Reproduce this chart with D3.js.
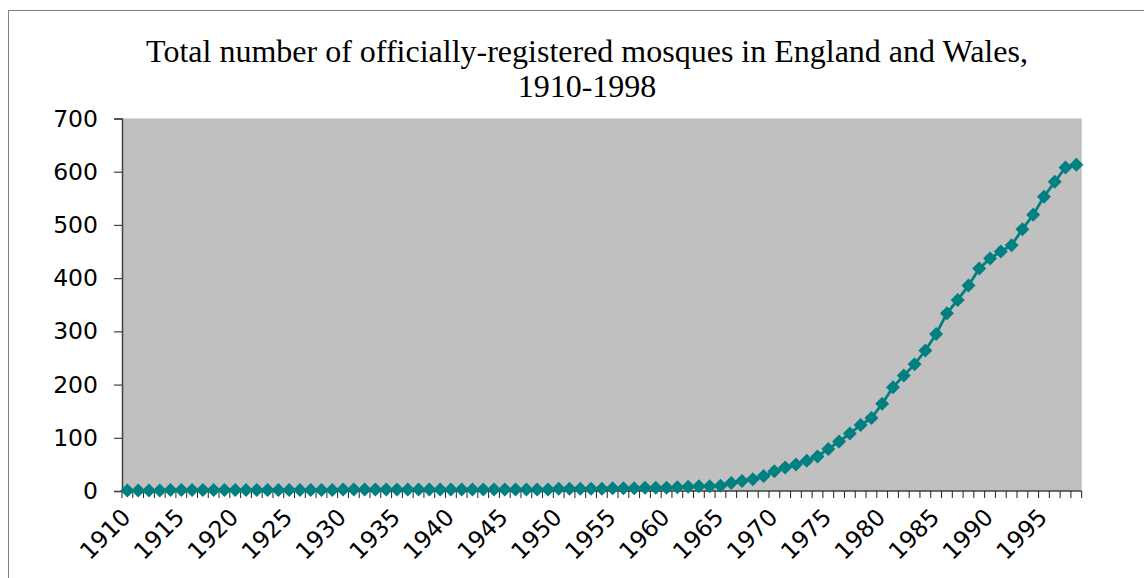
<!DOCTYPE html>
<html>
<head>
<meta charset="utf-8">
<script src="https://cdn.jsdelivr.net/npm/d3@7"></script>
<style>
  html, body { margin: 0; padding: 0; background: #fff; }
  svg { display: block; }
</style>
</head>
<body>
<svg id="chart" width="1144" height="578"></svg>
<script>
const titleLines = ["Total number of officially-registered mosques in England and Wales,", "1910-1998"];
const years = [1910,1911,1912,1913,1914,1915,1916,1917,1918,1919,
  1920,1921,1922,1923,1924,1925,1926,1927,1928,1929,
  1930,1931,1932,1933,1934,1935,1936,1937,1938,1939,
  1940,1941,1942,1943,1944,1945,1946,1947,1948,1949,
  1950,1951,1952,1953,1954,1955,1956,1957,1958,1959,
  1960,1961,1962,1963,1964,1965,1966,1967,1968,1969,
  1970,1971,1972,1973,1974,1975,1976,1977,1978,1979,
  1980,1981,1982,1983,1984,1985,1986,1987,1988,1989,
  1990,1991,1992,1993,1994,1995,1996,1997,1998];
const mosques = [1,1,1,1,2,2,2,2,2,2,
  2,2,2,2,2,2,2,2,2,2,
  3,3,3,3,3,3,3,3,3,3,
  3,3,3,3,3,3,3,3,3,3,
  4,4,4,4,4,5,5,5,6,6,
  6,7,8,9,9,10,15,19,22,28,
  37,44,50,57,65,79,93,108,124,137,
  164,195,217,238,264,295,334,359,386,418,
  437,450,462,492,519,553,581,608,613];
const yTicks = [0,100,200,300,400,500,600,700];
const xTickLabels = [1910,1915,1920,1925,1930,1935,1940,1945,1950,1955,1960,1965,1970,1975,1980,1985,1990,1995];

const svg = d3.select("#chart");
const plot = {left: 122, right: 1081.7, top: 118.5, bottom: 491};

// outer frame
svg.append("rect").attr("x", 8.5).attr("y", 10.5).attr("width", 1150).attr("height", 600)
  .attr("fill", "#fff").attr("stroke", "#808080").attr("stroke-width", 1);

const x = d3.scaleBand().domain(years).range([plot.left, plot.right]).padding(0);
const y = d3.scaleLinear().domain([0, 700]).range([plot.bottom, plot.top]);

// plot area
svg.append("rect").attr("x", plot.left).attr("y", plot.top)
  .attr("width", plot.right - plot.left).attr("height", plot.bottom - plot.top)
  .attr("fill", "#C0C0C0");

// title
svg.append("g").selectAll("text").data(titleLines).join("text")
  .attr("x", 587).attr("y", (d, i) => 62 + i * 35)
  .attr("text-anchor", "middle")
  .attr("font-family", "'Liberation Serif', 'Times New Roman', serif")
  .attr("font-size", 32).attr("fill", "#000")
  .text(d => d);

// y axis
const yAxis = d3.axisLeft(y).tickValues(yTicks).tickSize(8).tickPadding(16).tickFormat(d3.format("d"));
const gy = svg.append("g").attr("transform", `translate(${plot.left},0)`).call(yAxis);
gy.select(".domain").attr("stroke", "#404040").attr("stroke-width", 1.5);
gy.selectAll(".tick line").attr("stroke", "#404040").attr("stroke-width", 1.2);
gy.selectAll(".tick text").attr("font-family", "'DejaVu Sans', Verdana, sans-serif")
  .attr("font-size", 23.5).attr("fill", "#000");

// x axis: ticks at category boundaries
const boundaries = years.map(d => x(d)).concat([plot.right]);
const gx = svg.append("g");
gx.append("line").attr("x1", plot.left).attr("x2", plot.right)
  .attr("y1", plot.bottom).attr("y2", plot.bottom)
  .attr("stroke", "#404040").attr("stroke-width", 1.5);
gx.selectAll("line.tk").data(boundaries).join("line").attr("class", "tk")
  .attr("x1", d => d).attr("x2", d => d)
  .attr("y1", plot.bottom).attr("y2", plot.bottom + 7)
  .attr("stroke", "#202020").attr("stroke-width", 1);
gx.selectAll("text").data(xTickLabels).join("text")
  .attr("transform", d => `translate(${x(d) + x.bandwidth() / 2 - 7},${plot.bottom + 16}) rotate(-45)`)
  .attr("text-anchor", "end").attr("dy", "0.7em")
  .attr("font-family", "'DejaVu Sans', Verdana, sans-serif")
  .attr("font-size", 23.5).attr("fill", "#000")
  .text(d => d);

// line
const cx = d => x(d) + x.bandwidth() / 2;
const line = d3.line().x((d, i) => cx(years[i])).y(d => y(d));
svg.append("path").datum(mosques).attr("d", line)
  .attr("fill", "none").attr("stroke", "#008080").attr("stroke-width", 2.8);

// markers
svg.append("g").selectAll("path").data(mosques).join("path")
  .attr("transform", (d, i) => `translate(${cx(years[i])},${y(d)})`)
  .attr("d", "M0,-7L7,0L0,7L-7,0Z")
  .attr("fill", "#008080");
</script>
</body>
</html>
